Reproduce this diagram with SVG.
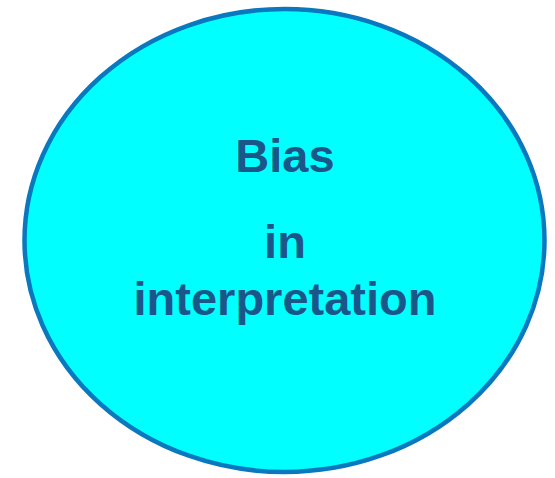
<svg xmlns="http://www.w3.org/2000/svg" width="555" height="478" viewBox="0 0 555 478">
<style>
.lbl{font-family:"Liberation Sans",Arial,sans-serif;font-weight:bold;font-size:47px;fill:#1A5688;text-anchor:middle}
</style>
<rect width="555" height="478" fill="#FFFFFF"/>
<g id="node-bias">
<ellipse cx="284.5" cy="240.5" rx="260" ry="231.5" fill="#00FFFF" stroke="#0A78BE" stroke-width="4.5"/>
<text class="lbl" x="285" y="172">Bias</text>
<text class="lbl" x="285" y="258">in</text>
<text class="lbl" x="285" y="315">interpretation</text>
</g>
<g id="connectors"></g>
</svg>
